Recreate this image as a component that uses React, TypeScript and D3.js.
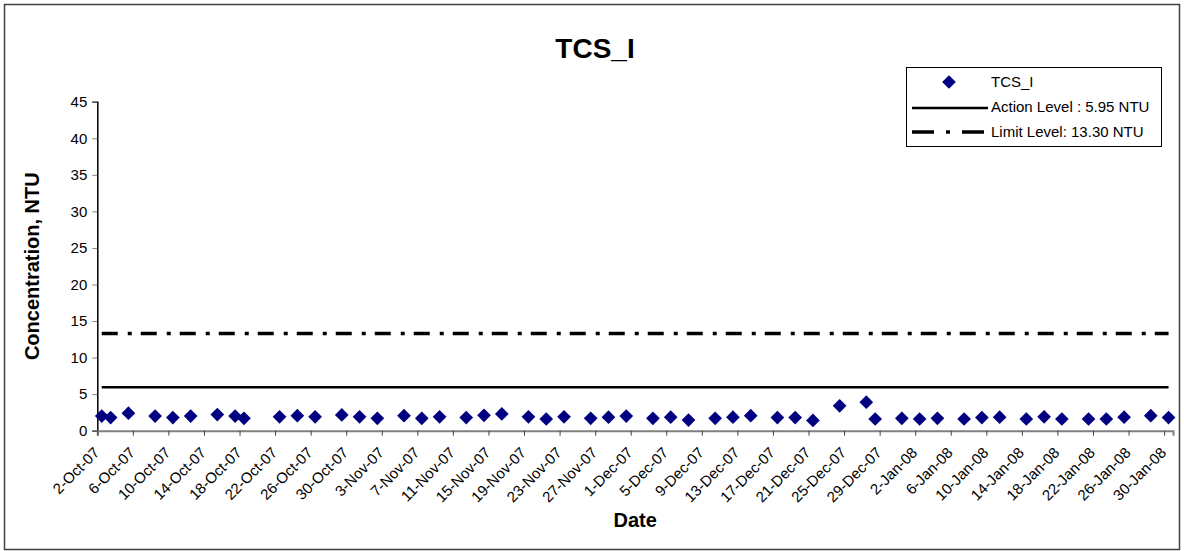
import { useEffect, useRef } from 'react';
import * as d3 from 'd3';

// sample dates (2007-10-02 .. 2008-01-30) and turbidity, NTU
const sampleDates = [
  '2007-10-02', '2007-10-03', '2007-10-05', '2007-10-08', '2007-10-10', '2007-10-12', '2007-10-15',
  '2007-10-17', '2007-10-18', '2007-10-22', '2007-10-24', '2007-10-26', '2007-10-29', '2007-10-31',
  '2007-11-02', '2007-11-05', '2007-11-07', '2007-11-09', '2007-11-12', '2007-11-14', '2007-11-16',
  '2007-11-19', '2007-11-21', '2007-11-23', '2007-11-26', '2007-11-28', '2007-11-30', '2007-12-03',
  '2007-12-05', '2007-12-07', '2007-12-10', '2007-12-12', '2007-12-14', '2007-12-17', '2007-12-19',
  '2007-12-21', '2007-12-24', '2007-12-27', '2007-12-28', '2007-12-31', '2008-01-02', '2008-01-04',
  '2008-01-07', '2008-01-09', '2008-01-11', '2008-01-14', '2008-01-16', '2008-01-18', '2008-01-21',
  '2008-01-23', '2008-01-25', '2008-01-28', '2008-01-30',
];

const tcsValues = [
  2.0, 1.8, 2.4, 2.0, 1.8, 2.0, 2.2,
  2.0, 1.7, 1.9, 2.05, 1.9, 2.15, 1.9,
  1.7, 2.05, 1.7, 1.9, 1.8, 2.1, 2.3,
  1.9, 1.6, 1.9, 1.7, 1.85, 2.0, 1.7,
  1.85, 1.45, 1.7, 1.85, 2.05, 1.8, 1.8,
  1.4, 3.4, 3.9, 1.6, 1.7, 1.6, 1.7,
  1.6, 1.8, 1.85, 1.6, 1.9, 1.6, 1.6,
  1.6, 1.85, 2.05, 1.8,
];

const actionLevel = 5.95;
const limitLevel = 13.3;

const yTicks = [0, 5, 10, 15, 20, 25, 30, 35, 40, 45];
const xDomain = ['2007-10-02', '2008-01-31'];

const legendLabels = ['TCS_I', 'Action Level : 5.95 NTU', 'Limit Level: 13.30 NTU'];

const parse = (s: string) => new Date(s + 'T00:00:00Z');
const mid = (s: string) => new Date(s + 'T12:00:00Z');

export default function App() {
  const svgRef = useRef<SVGSVGElement>(null);
  const width = 1184;
  const height = 551;

  useEffect(() => {
    const svg = d3.select(svgRef.current);
    svg.selectAll('*').remove();

    const font = 'Arial, "Liberation Sans", sans-serif';
    const left = 97.3, right = 1173, top = 101.7, bottom = 430.7;

    const x = d3.scaleUtc()
      .domain(xDomain.map(parse))
      .range([left, right]);

    const y = d3.scaleLinear()
      .domain([0, 45])
      .range([bottom, top]);

    // chart frame
    svg.append('rect')
      .attr('x', 4.5).attr('y', 4.5)
      .attr('width', 1175).attr('height', 545)
      .attr('fill', 'white')
      .attr('stroke', '#404040')
      .attr('stroke-width', 1.5);

    // title
    svg.append('text')
      .attr('x', 595).attr('y', 58)
      .attr('text-anchor', 'middle')
      .style('font-family', font)
      .style('font-size', '28px')
      .style('font-weight', 'bold')
      .text('TCS_I');

    // y axis
    const yAxis = svg.append('g')
      .attr('transform', `translate(${left},0)`)
      .call(d3.axisLeft(y).tickValues(yTicks).tickSize(5).tickPadding(5));
    yAxis.select('.domain').attr('stroke', '#000').attr('stroke-width', 1.5);
    yAxis.selectAll('.tick line').attr('stroke', '#808080');
    yAxis.selectAll('text')
      .style('font-family', font)
      .style('font-size', '15px')
      .attr('fill', '#000');

    // x axis, tick every 4 days
    const xTicks = d3.utcDay.range(parse(xDomain[0]), parse('2008-01-31'), 4);
    const fmt = d3.utcFormat('%-d-%b-%y');
    const xAxis = svg.append('g')
      .attr('transform', `translate(0,${bottom})`)
      .call(d3.axisBottom(x).tickValues(xTicks).tickSize(5).tickFormat(() => ''));
    xAxis.select('.domain').attr('stroke', '#808080').attr('stroke-width', 2);
    xAxis.selectAll('.tick line').attr('stroke', '#404040');

    svg.append('g').selectAll('text')
      .data(xTicks)
      .enter().append('text')
      .attr('transform', d => `translate(${x(d) + 3},${bottom + 23}) rotate(-45)`)
      .attr('text-anchor', 'end')
      .style('font-family', font)
      .style('font-size', '15px')
      .text(d => fmt(d));

    // axis titles
    svg.append('text')
      .attr('x', (left + right) / 2).attr('y', 527)
      .attr('text-anchor', 'middle')
      .style('font-family', font)
      .style('font-size', '20px')
      .style('font-weight', 'bold')
      .text('Date');

    svg.append('text')
      .attr('transform', `translate(39,${(top + bottom) / 2}) rotate(-90)`)
      .attr('text-anchor', 'middle')
      .style('font-family', font)
      .style('font-size', '20px')
      .style('font-weight', 'bold')
      .text('Concentration, NTU');

    // level lines
    const levelLine = (v: number) => d3.line<string>()
      .x(d => x(mid(d)))
      .y(() => y(v))(sampleDates);

    svg.append('path')
      .attr('d', levelLine(limitLevel))
      .attr('fill', 'none')
      .attr('stroke', '#000')
      .attr('stroke-width', 3.5)
      .attr('stroke-dasharray', '16,10,4,9');

    svg.append('path')
      .attr('d', levelLine(actionLevel))
      .attr('fill', 'none')
      .attr('stroke', '#000')
      .attr('stroke-width', 2.5);

    // data points
    const diamond = d3.symbol().type(d3.symbolDiamond2).size(120);
    svg.append('g').selectAll('path')
      .data(sampleDates.map((d, i) => ({ date: mid(d), value: tcsValues[i] })))
      .enter().append('path')
      .attr('d', diamond)
      .attr('transform', d => `translate(${x(d.date)},${y(d.value)})`)
      .attr('fill', '#000080');

    // legend
    const lg = svg.append('g');
    lg.append('rect')
      .attr('x', 906.5).attr('y', 67.5)
      .attr('width', 255).attr('height', 79)
      .attr('fill', 'white')
      .attr('stroke', '#000')
      .attr('stroke-width', 1);

    lg.append('path')
      .attr('d', diamond)
      .attr('transform', 'translate(949,82)')
      .attr('fill', '#000080');

    lg.append('line')
      .attr('x1', 912).attr('x2', 988)
      .attr('y1', 108).attr('y2', 108)
      .attr('stroke', '#000').attr('stroke-width', 2.5);

    lg.append('line')
      .attr('x1', 912).attr('x2', 988)
      .attr('y1', 132).attr('y2', 132)
      .attr('stroke', '#000').attr('stroke-width', 3.5)
      .attr('stroke-dasharray', '22,12,4,12');

    lg.selectAll('.legend-label')
      .data(legendLabels)
      .enter().append('text')
      .attr('class', 'legend-label')
      .attr('x', 991)
      .attr('y', (d, i) => 87 + i * 25)
      .style('font-family', font)
      .style('font-size', '15px')
      .text(d => d);
  }, []);

  return (
    <div style={{ position: 'fixed', left: 0, top: 0 }}>
      <svg ref={svgRef} width={width} height={height} style={{ display: 'block' }} />
    </div>
  );
}
